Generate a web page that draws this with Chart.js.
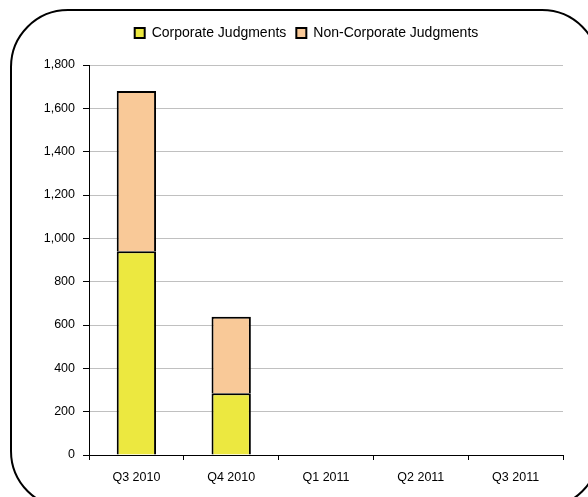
<!DOCTYPE html>
<html>
<head>
<meta charset="utf-8">
<script src="https://cdn.jsdelivr.net/npm/chart.js@4/dist/chart.umd.min.js"></script>
<style>
  html, body { margin: 0; padding: 0; background: #fff; }
  #wrap { position: relative; width: 588px; height: 497px; overflow: hidden; }
  #frame { position: absolute; left: 10px; top: 9px; width: 590px; height: 500px;
           border: 2px solid #000; border-radius: 58px; box-sizing: border-box; pointer-events: none; }
  canvas { position: absolute; left: 0; top: 0; }
</style>
</head>
<body>
<div id="wrap">
  <canvas id="c" width="588" height="497"></canvas>
  <div id="frame"></div>
</div>
<script>
const categories = ['Q3 2010', 'Q4 2010', 'Q1 2011', 'Q2 2011', 'Q3 2011'];
const corporateJudgments = [940, 285, null, null, null];
const nonCorporateJudgments = [740, 353, null, null, null];
const seriesNames = ['Corporate Judgments', 'Non-Corporate Judgments'];
const yMin = 0, yMax = 1800, yStep = 200;

const tickFont = { family: 'Liberation Sans, Arial, sans-serif', size: 12.5 };
const legendFont = { family: 'Liberation Sans, Arial, sans-serif', size: 14 };

const legendTweak = {
  id: 'legendTweak',
  beforeUpdate(chart) {
    const lg = chart.legend;
    if (lg && !lg._wrappedFit) {
      const f = lg.fit.bind(lg);
      lg.fit = function () { f(); this.height += 15; };
      lg._wrappedFit = true;
    }
  },
  afterLayout(chart) {
    const lg = chart.legend;
    if (lg) { lg.left += 25; lg.right += 25; }
  }
};

new Chart(document.getElementById('c'), {
  type: 'bar',
  data: {
    labels: categories,
    datasets: [
      { label: seriesNames[0], data: corporateJudgments, backgroundColor: '#ECE840',
        borderColor: '#000', borderWidth: 2, barPercentage: 0.415, categoryPercentage: 1 },
      { label: seriesNames[1], data: nonCorporateJudgments, backgroundColor: '#F9C998',
        borderColor: '#000', borderWidth: 2, barPercentage: 0.415, categoryPercentage: 1 }
    ]
  },
  plugins: [legendTweak],
  options: {
    responsive: false,
    animation: false,
    devicePixelRatio: 1,
    layout: { padding: { left: 0, right: 25, top: 16, bottom: 12 } },
    plugins: {
      legend: {
        position: 'top',
        labels: { font: legendFont, color: '#000', boxWidth: 10, boxHeight: 10, padding: 10,
          generateLabels: (chart) => chart.data.datasets.map((d, i) => ({
            text: d.label, fillStyle: d.backgroundColor, strokeStyle: '#000', lineWidth: 2,
            datasetIndex: i, fontColor: '#000'
          }))
        }
      },
      tooltip: { enabled: false }
    },
    scales: {
      x: {
        stacked: true,
        afterFit: (s) => { s.height = 30; },
        grid: { display: true, offset: true, drawOnChartArea: false, drawTicks: true,
                tickLength: 5, color: '#000' },
        border: { display: true, color: '#000', width: 1 },
        ticks: { font: tickFont, color: '#000', padding: 10, maxRotation: 0 }
      },
      y: {
        stacked: true,
        min: yMin, max: yMax,
        afterFit: (s) => { s.width = 89; },
        grid: { color: '#c0c0c0', lineWidth: 1, tickLength: 6, tickColor: '#000' },
        border: { display: true, color: '#000', width: 1 },
        ticks: { stepSize: yStep, font: tickFont, color: '#000', padding: 8,
                 callback: (v) => v.toLocaleString('en-US') }
      }
    }
  }
});
</script>
</body>
</html>
